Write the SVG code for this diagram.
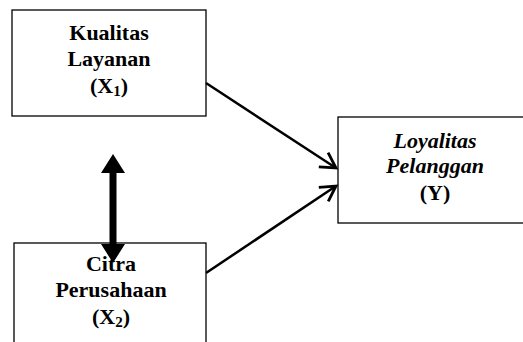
<svg xmlns="http://www.w3.org/2000/svg" width="523" height="342" viewBox="0 0 523 342">
<defs>
<style>
.box{fill:#fff;stroke:#000;stroke-width:1.3}
.t{font-family:"Liberation Serif","Times New Roman",serif;font-size:22px;font-weight:bold;text-anchor:middle;fill:#000}
.i{font-style:italic}
.c{stroke:#000;stroke-width:2.5;fill:none}
</style>
<marker id="open" markerWidth="20" markerHeight="22" refX="16" refY="10" orient="auto" markerUnits="userSpaceOnUse">
<path d="M1,1.5 L16,10 L1,18.5" fill="none" stroke="#000" stroke-width="2.8" stroke-linejoin="miter"/>
</marker>
</defs>
<g id="kualitas">
<rect class="box" x="12" y="10" width="194" height="106"/>
<text class="t" x="109" y="40">Kualitas</text>
<text class="t" x="109" y="66">Layanan</text>
<text class="t" x="109" y="93">(X<tspan font-size="15" dy="3">1</tspan><tspan dy="-3">)</tspan></text>
</g>
<g id="citra">
<rect class="box" x="14" y="243" width="192" height="110"/>
<text class="t" x="111" y="271">Citra</text>
<text class="t" x="111" y="297">Perusahaan</text>
<text class="t" x="111" y="324">(X<tspan font-size="15" dy="3">2</tspan><tspan dy="-3">)</tspan></text>
</g>
<g id="loyalitas">
<rect class="box" x="338" y="117" width="195" height="106"/>
<text class="t i" x="435" y="148">Loyalitas</text>
<text class="t i" x="435" y="173">Pelanggan</text>
<text class="t" x="435" y="200">(Y)</text>
</g>
<g id="connectors">
<line class="c" x1="206" y1="83" x2="336" y2="168" marker-end="url(#open)"/>
<line class="c" x1="206" y1="273" x2="336" y2="186" marker-end="url(#open)"/>
<path d="M113,154 L125,173 L116.5,173 L116.5,244 L125,244 L113,263 L101,244 L109.5,244 L109.5,173 L101,173 Z" fill="#000"/>
</g>
</svg>
